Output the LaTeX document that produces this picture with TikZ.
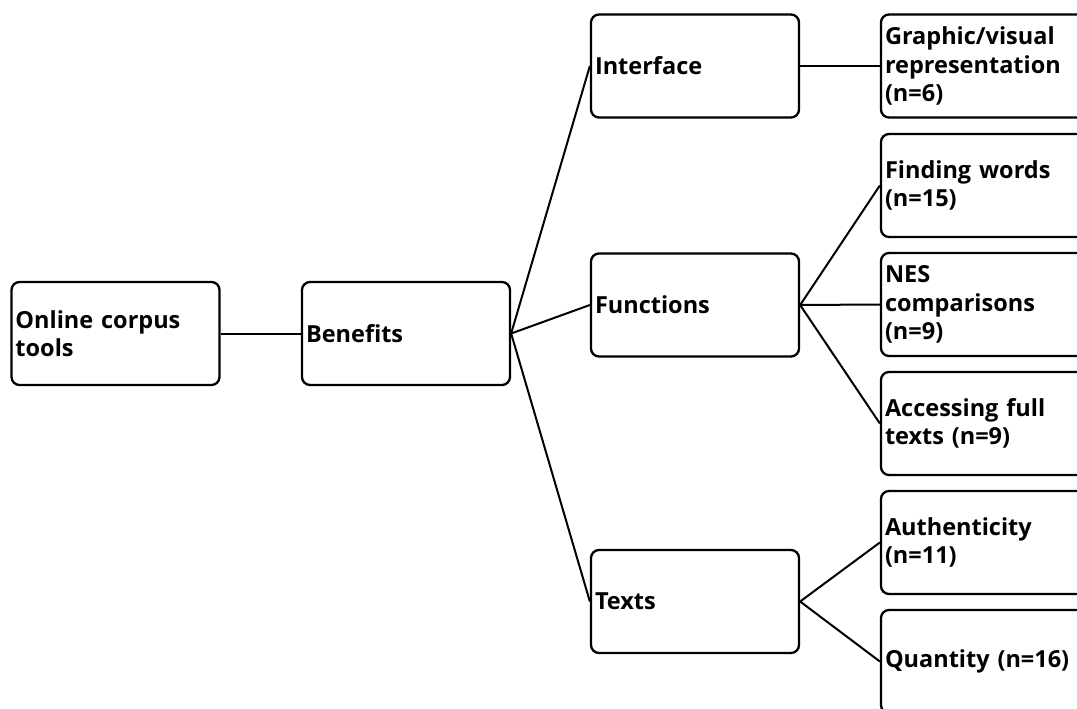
\documentclass[tikz,border=0pt]{standalone}
\usepackage{fontspec}
\setmainfont{Open Sans}
\begin{document}
\begin{tikzpicture}[x=1pt,y=-1pt,
  box/.style={draw=black, line width=2.3pt, rounded corners=8pt, fill=white,
    minimum height=103pt, text width=200pt, align=left,
    inner xsep=4pt, inner ysep=0pt,
    font=\fontsize{23.5}{28.5}\selectfont\bfseries},
  link/.style={draw=black, line width=2pt}]
\clip (0,0) rectangle (1077,709);
\fill[white] (0,0) rectangle (1077,709);

% first level
\node[box] (root) at (115.5,333.5) {Online corpus\\tools};
\node[box] (ben) at (406,333.5) {Benefits};

% second level
\node[box] (intf) at (695,66) {Interface};
\node[box] (func) at (695,305) {Functions};
\node[box] (txt) at (695,601.5) {Texts};

% third level
\node[box] (graph) at (985,66) {Graphic/visual\\representation\\(n=6)};
\node[box] (find) at (985,185.5) {Finding words\\(n=15)};
\node[box] (nes) at (985,304.5) {NES\\comparisons\\(n=9)};
\node[box] (acc) at (985,423.5) {Accessing full\\texts (n=9)};
\node[box] (auth) at (985,542.5) {Authenticity\\(n=11)};
\node[box] (quan) at (985,661.5) {Quantity (n=16)};

% connectors
\draw[link] (root.east) -- (ben.west);
\draw[link] (ben.east) -- (intf.west);
\draw[link] (ben.east) -- (func.west);
\draw[link] (ben.east) -- (txt.west);
\draw[link] (intf.east) -- (graph.west);
\draw[link] (func.east) -- (find.west);
\draw[link] (func.east) -- (nes.west);
\draw[link] (func.east) -- (acc.west);
\draw[link] (txt.east) -- (auth.west);
\draw[link] (txt.east) -- (quan.west);
\end{tikzpicture}
\end{document}
